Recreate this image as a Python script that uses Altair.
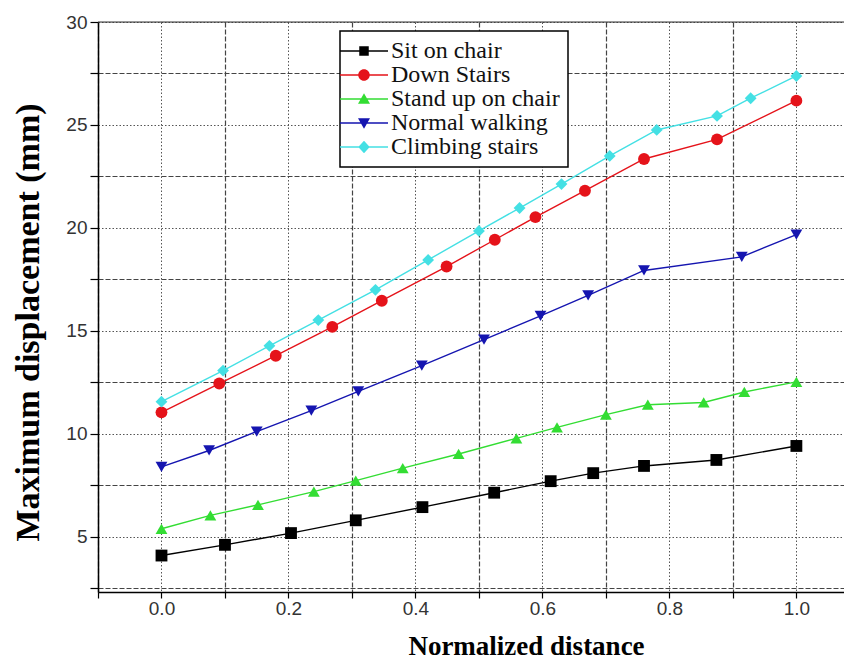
import altair as alt
import pandas as pd

# ---------------- data ----------------
series_names = ["Sit on chair", "Down Stairs", "Stand up on chair", "Normal walking", "Climbing stairs"]
series_colors = ["#000000", "#e5131a", "#33dd33", "#1515b0", "#44e0e4"]
series_shapes = ["square", "circle", "triangle-up", "triangle-down", "diamond"]

sit_x = [0.0, 0.1, 0.204, 0.306, 0.411, 0.524, 0.613, 0.68, 0.76, 0.874, 1.0]
sit_y = [4.1, 4.62, 5.19, 5.81, 6.45, 7.15, 7.71, 8.1, 8.45, 8.74, 9.42]

down_x = [0.0, 0.091, 0.18, 0.269, 0.347, 0.449, 0.525, 0.589, 0.667, 0.76, 0.875, 1.0]
down_y = [11.05, 12.45, 13.8, 15.2, 16.47, 18.13, 19.43, 20.53, 21.81, 23.35, 24.3, 26.18]

stand_x = [0.0, 0.077, 0.152, 0.24, 0.306, 0.38, 0.468, 0.559, 0.623, 0.7, 0.766, 0.854, 0.918, 1.0]
stand_y = [5.4, 6.05, 6.56, 7.2, 7.74, 8.34, 9.03, 9.79, 10.32, 10.94, 11.42, 11.53, 12.04, 12.53]

walk_x = [0.0, 0.075, 0.15, 0.236, 0.31, 0.41, 0.508, 0.597, 0.672, 0.76, 0.914, 1.0]
walk_y = [8.4, 9.2, 10.12, 11.13, 12.07, 13.32, 14.58, 15.73, 16.73, 17.94, 18.6, 19.68]

climb_x = [0.0, 0.097, 0.17, 0.247, 0.337, 0.42, 0.5, 0.564, 0.63, 0.706, 0.78, 0.875, 0.928, 1.0]
climb_y = [11.57, 13.08, 14.28, 15.53, 17.0, 18.45, 19.86, 20.97, 22.13, 23.5, 24.76, 25.44, 26.3, 27.38]

x_ticks = [-0.1, 0.0, 0.1, 0.2, 0.3, 0.4, 0.5, 0.6, 0.7, 0.8, 0.9, 1.0]
y_ticks = [2.5, 5, 7.5, 10, 12.5, 15, 17.5, 20, 22.5, 25, 27.5, 30]

# ---------------- table ----------------
frames = []
for name, shp, xs, ys in zip(series_names, series_shapes,
                             [sit_x, down_x, stand_x, walk_x, climb_x],
                             [sit_y, down_y, stand_y, walk_y, climb_y]):
    frames.append(pd.DataFrame({"x": xs, "y": ys, "series": name, "marker": shp}))
df = pd.concat(frames, ignore_index=True)

# ---------------- legend symbols: line segment + marker ----------------
bar = "M-4.8,-0.14H4.8V0.14H-4.8Z "
legend_paths = {
    "Sit on chair": bar + "M-0.95,-0.95H0.95V0.95H-0.95Z",
    "Down Stairs": bar + "M-1.15,0A1.15,1.15,0,1,1,1.15,0A1.15,1.15,0,1,1,-1.15,0Z",
    "Stand up on chair": bar + "M0,-1.15L1.2,0.95L-1.2,0.95Z",
    "Normal walking": bar + "M0,1.15L-1.2,-0.95L1.2,-0.95Z",
    "Climbing stairs": bar + "M0,-1.25L1.15,0L0,1.25L-1.15,0Z",
}
shape_expr = ""
for name in series_names[:-1]:
    shape_expr += f"datum.value === '{name}' ? '{legend_paths[name]}' : "
shape_expr += f"'{legend_paths[series_names[-1]]}'"


def make_legend():
    return alt.Legend(
        title=None, orient="none", legendX=242, legendY=9, direction="vertical",
        symbolType=alt.ExprRef(shape_expr), symbolSize=100, symbolStrokeWidth=0,
        symbolFillColor=alt.ExprRef("scale('color', datum.value)"),
        symbolOffset=4, labelOffset=15, padding=8, rowPadding=0,
        labelFont="Liberation Serif", labelFontSize=24, labelColor="#111", labelLimit=400,
        strokeColor="#000", fillColor="#ffffff",
    )


x_major = "abs(round(datum.value*10)) % 2 === 0"
y_major = "datum.value % 5 === 0"

x_axis = alt.Axis(
    values=x_ticks, labelExpr=f"{x_major} ? format(datum.value, '.1f') : ''",
    labelFlush=False, labelFont="Liberation Sans", labelFontSize=19, labelColor="#333",
    labelPadding=1, tickSize=6, tickColor="#000", tickWidth=1.2,
    domainColor="#000", domainWidth=1.5,
    grid=True,
    gridDash={"condition": {"test": x_major, "value": [1.5, 2]}, "value": [5, 2]},
    gridColor={"condition": {"test": x_major, "value": "#555"}, "value": "#444"},
    gridWidth={"condition": {"test": x_major, "value": 1}, "value": 1.2},
    titleFont="Liberation Serif", titleFontSize=27, titleFontWeight="bold", titleColor="#000",
    titleX=428, titleY=62, titleBaseline="alphabetic",
)
y_axis = alt.Axis(
    values=y_ticks, labelExpr=f"{y_major} ? datum.label : ''",
    labelFlush=False, labelFont="Liberation Sans", labelFontSize=19, labelColor="#333",
    labelPadding=3, tickSize=8, tickColor="#000", tickWidth=1.2,
    domainColor="#000", domainWidth=1.5,
    grid=True,
    gridDash={"condition": {"test": y_major, "value": [1.5, 2]}, "value": [5, 2]},
    gridColor={"condition": {"test": y_major, "value": "#555"}, "value": "#444"},
    gridWidth={"condition": {"test": y_major, "value": 1}, "value": 1.2},
    titleFont="Liberation Serif", titleFontSize=34, titleFontWeight="bold", titleColor="#000",
    titleX=-60, titleY=300, titleBaseline="alphabetic",
)

x_enc = alt.X("x:Q", scale=alt.Scale(domain=[-0.1, 1.075], nice=False, zero=False),
              axis=x_axis, title="Normalized distance")
y_enc = alt.Y("y:Q", scale=alt.Scale(domain=[2.33, 30], nice=False, zero=False),
              axis=y_axis, title="Maximum displacement (mm)")
color_scale = alt.Scale(domain=series_names, range=series_colors)

base = alt.Chart(df)
lines = base.mark_line(strokeWidth=1.4).encode(
    x=x_enc, y=y_enc,
    color=alt.Color("series:N", scale=color_scale, legend=make_legend()),
)
points = base.mark_point(filled=True, opacity=1, size=140, strokeWidth=0).encode(
    x=x_enc, y=y_enc,
    color=alt.Color("series:N", scale=color_scale, legend=make_legend()),
    shape=alt.Shape("marker:N", scale=None),
)
top = alt.Chart(pd.DataFrame({"v": [30]})).mark_rule(color="#333", strokeWidth=1).encode(y=alt.Y("v:Q"))

chart = alt.layer(lines, points, top).properties(
    width=746, height=570,
    autosize=alt.AutoSizeParams(type="none"),
    padding={"left": 90, "top": 14, "right": 0, "bottom": 70},
).configure_view(stroke=None).configure(background="white").configure_legend(
    labelFont="Liberation Serif", labelFontSize=24, labelColor="#111", labelLimit=400,
    strokeWidth=1.5,
)

chart.save("out.html", embed_options={"renderer": "svg", "actions": False})
